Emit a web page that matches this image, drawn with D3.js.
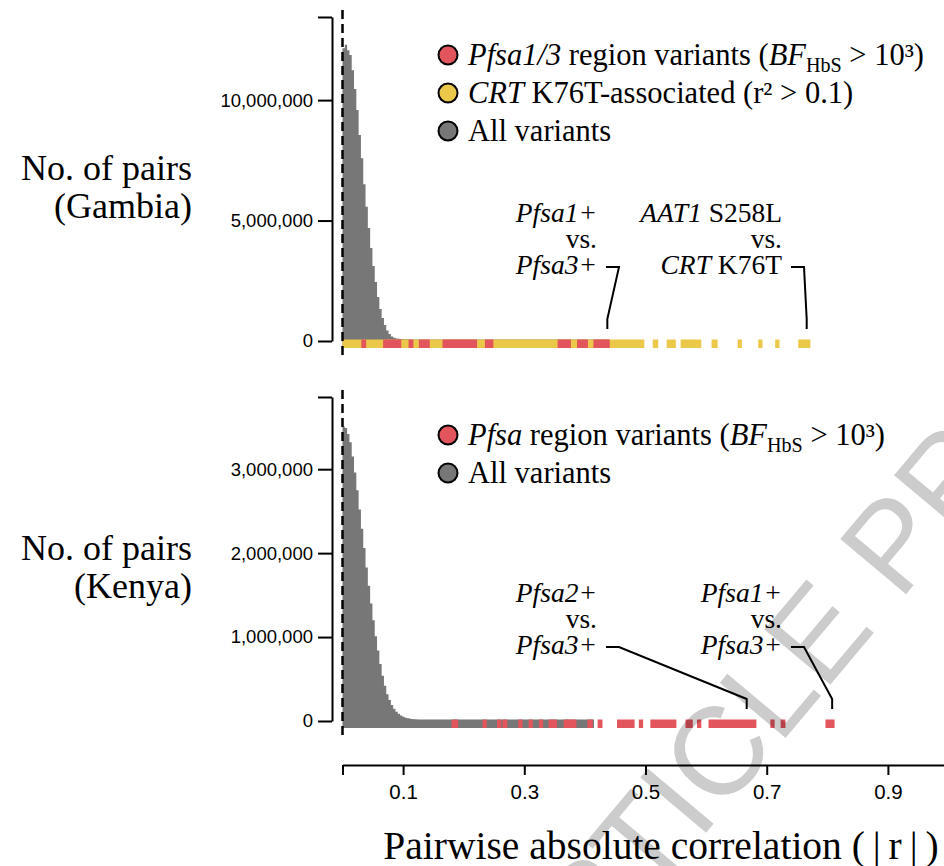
<!DOCTYPE html>
<html>
<head>
<meta charset="utf-8">
<script src="https://cdnjs.cloudflare.com/ajax/libs/d3/7.8.5/d3.min.js"></script>
<style>
  html, body { margin: 0; padding: 0; background: #fff; }
  svg { display: block; }
</style>
</head>
<body>
<div id="chart"></div>
<script>
/* ============================================================
   DATA
   ============================================================ */

// Histogram bin width in |r|
const BIN_WIDTH = 0.0038;

// Number of variant pairs per bin (all variants)
const gambiaCounts = [
  12150000, 12300000, 12070000, 11870000, 11240000, 10460000, 9590000, 8550000,
  7590000, 6510000, 5570000, 4690000, 3860000, 3110000, 2450000, 1830000,
  1330000, 950000, 660000, 440000, 290000, 190000, 135000, 105000,
  90000, 80000, 72000, 65000, 58000, 52000, 46000, 41000,
  36000, 31000, 27000, 23000, 19000, 16000, 13000, 10000, 8000, 6000
];
const kenyaCounts = [
  3510000, 3490000, 3420000, 3320000, 3150000, 2960000, 2750000, 2520000,
  2290000, 2060000, 1830000, 1610000, 1400000, 1200000, 1010000, 840000,
  680000, 540000, 420000, 320000, 250000, 190000, 145000, 110000,
  85000, 65000, 50000, 40000, 32000, 26000, 21000, 17000,
  14000, 12000, 10000, 8000, 7000, 6000, 5000, 4000
];

// Rug intervals [from, to] in |r|
const gambiaAllRug  = [[0.000, 0.440]];
const gambiaCrtRug  = [
  [0.000, 0.498], [0.512, 0.521], [0.535, 0.550], [0.558, 0.592], [0.609, 0.619],
  [0.652, 0.658], [0.686, 0.693], [0.714, 0.721], [0.752, 0.772]
];
const gambiaPfsaRug = [
  [0.031, 0.039], [0.067, 0.097], [0.109, 0.117], [0.126, 0.144], [0.165, 0.222],
  [0.235, 0.249], [0.355, 0.377], [0.387, 0.405], [0.414, 0.441]
];
const kenyaAllRug  = [[0.000, 0.415]];
const kenyaPfsaRug = [
  [0.180, 0.191], [0.231, 0.237], [0.255, 0.261], [0.264, 0.272], [0.290, 0.297],
  [0.307, 0.314], [0.324, 0.331], [0.340, 0.354], [0.365, 0.386], [0.404, 0.413],
  [0.421, 0.429], [0.453, 0.482], [0.489, 0.495], [0.508, 0.551], [0.566, 0.578],
  [0.585, 0.592], [0.604, 0.683], [0.706, 0.713], [0.723, 0.731], [0.797, 0.812]
];

// Axes
const gambiaTicks = [0, 5000000, 10000000];
const gambiaYMax  = 13450000;
const kenyaTicks  = [0, 1000000, 2000000, 3000000];
const kenyaYMax   = 3860000;
const xTicks      = [0, 0.1, 0.3, 0.5, 0.7, 0.9, 1];

// Text
const gambiaYLabel = ['No. of pairs', '(Gambia)'];
const kenyaYLabel  = ['No. of pairs', '(Kenya)'];
const xTitle = 'Pairwise absolute correlation (\u2009|\u2009r\u2009|\u2009)';

const gambiaLegend = [
  { key: 'pfsa', parts: [['Pfsa1/3', 'i'], [' region variants (', ''], ['BF', 'i'], ['HbS', 'sub'], [' > 10\u00b3)', '']] },
  { key: 'crt',  parts: [['CRT', 'i'], [' K76T-associated (r\u00b2 > 0.1)', '']] },
  { key: 'all',  parts: [['All variants', '']] }
];
const kenyaLegend = [
  { key: 'pfsa', parts: [['Pfsa', 'i'], [' region variants (', ''], ['BF', 'i'], ['HbS', 'sub'], [' > 10\u00b3)', '']] },
  { key: 'all',  parts: [['All variants', '']] }
];

// Annotated pairs: |r| of the pair and its label lines
const gambiaNotes = [
  { r: 0.437, lines: [[['Pfsa1+', 'i']], [['vs.', '']], [['Pfsa3+', 'i']]] },
  { r: 0.766, lines: [[['AAT1', 'i'], [' S258L', '']], [['vs.', '']], [['CRT', 'i'], [' K76T', '']]] }
];
const kenyaNotes = [
  { r: 0.667, lines: [[['Pfsa2+', 'i']], [['vs.', '']], [['Pfsa3+', 'i']]] },
  { r: 0.808, lines: [[['Pfsa1+', 'i']], [['vs.', '']], [['Pfsa3+', 'i']]] }
];

const watermark = 'ACCEPTED ARTICLE PREVIEW';


/* ============================================================
   STYLE / LAYOUT
   ============================================================ */

const W = 944, H = 866;
const SERIF = '"Liberation Serif", "Times New Roman", serif';
const SANS  = '"Liberation Sans", Arial, sans-serif';
const COLORS = { pfsa: '#E2555C', crt: '#ECC84A', all: '#777777' };

const LAYOUT = {
  axisX: 332,          // y-axis line
  xAxisY: 765,         // x-axis line
  noteX: [597, 782],   // right edge of annotation labels
  legendX: 448,
};

const panels = [
  { y0: 341, yTop: 17, yMax: gambiaYMax, ticks: gambiaTicks, counts: gambiaCounts,
    rugs: [['all', gambiaAllRug], ['crt', gambiaCrtRug], ['pfsa', gambiaPfsaRug]],
    legend: gambiaLegend, notes: gambiaNotes, ylabel: gambiaYLabel },
  { y0: 721, yTop: 397, yMax: kenyaYMax, ticks: kenyaTicks, counts: kenyaCounts,
    rugs: [['all', kenyaAllRug], ['pfsa', kenyaPfsaRug]],
    legend: kenyaLegend, notes: kenyaNotes, ylabel: kenyaYLabel },
];


/* ============================================================
   HELPERS
   ============================================================ */

// Append tspans for [text, style] parts: '' roman, 'i' italic, 'sub' subscript
function richText(text, parts) {
  let lowered = false;
  parts.forEach(([t, s]) => {
    const ts = text.append('tspan').text(t);
    if (s === 'i') ts.attr('font-style', 'italic');
    if (s === 'sub') {
      ts.attr('font-size', '0.66em').attr('dy', 7);
      lowered = true;
    } else if (lowered) {
      ts.attr('dy', -7);
      lowered = false;
    }
  });
}


/* ============================================================
   DRAW
   ============================================================ */

const svg = d3.select('#chart').append('svg')
  .attr('width', W)
  .attr('height', H);

svg.append('rect').attr('width', W).attr('height', H).attr('fill', '#fff');

const x = d3.scaleLinear().domain([0, 1]).range([342.5, 948.5]);

panels.forEach(p => {
  const y = d3.scaleLinear().domain([0, p.yMax]).range([p.y0, p.yTop]);
  const g = svg.append('g');

  /* Histogram (step area) */
  const pts = p.counts.map((c, i) => [i * BIN_WIDTH, c]);
  pts.push([p.counts.length * BIN_WIDTH, 0]);
  const area = d3.area()
    .x(d => x(d[0]))
    .y0(y(0))
    .y1(d => y(d[1]))
    .curve(d3.curveStepAfter);
  g.append('path').datum(pts).attr('d', area).attr('fill', COLORS.all);

  /* Rugs: all, then CRT, then Pfsa on top */
  p.rugs.forEach(([key, intervals]) => {
    g.append('g').selectAll('rect')
      .data(intervals)
      .join('rect')
      .attr('x', d => x(d[0]))
      .attr('width', d => Math.max(x(d[1]) - x(d[0]), 4.3))
      .attr('y', p.y0 - 1.5)
      .attr('height', 8.5)
      .attr('fill', COLORS[key]);
  });

  /* Dashed line at r = 0 */
  g.append('line')
    .attr('x1', x(0)).attr('x2', x(0))
    .attr('y1', p.yTop - 7).attr('y2', p.y0 + 16)
    .attr('stroke', '#000')
    .attr('stroke-width', 2.5)
    .attr('stroke-dasharray', '9,5');

  /* Y axis */
  const yAxis = d3.axisLeft(y)
    .tickValues(p.ticks.concat([p.yMax]))
    .tickSize(14)
    .tickSizeOuter(0)
    .tickPadding(5)
    .tickFormat(d => d === p.yMax ? '' : d3.format(',')(d));
  const ya = g.append('g')
    .attr('transform', `translate(${LAYOUT.axisX},0)`)
    .call(yAxis);
  ya.selectAll('path, line').attr('stroke', '#000').attr('stroke-width', 2);
  ya.selectAll('text')
    .attr('font-family', SANS)
    .attr('font-size', 18.5)
    .attr('fill', '#000');

  /* Y label */
  const yl = g.append('text')
    .attr('font-family', SERIF)
    .attr('font-size', 36)
    .attr('text-anchor', 'end');
  p.ylabel.forEach((line, i) => {
    yl.append('tspan')
      .attr('x', 192)
      .attr('y', p.y0 - 161 + i * 38)
      .text(line);
  });

  /* Legend */
  const lg = g.append('g').selectAll('g')
    .data(p.legend)
    .join('g')
    .attr('transform', (d, i) => `translate(${LAYOUT.legendX},${p.y0 - 286 + i * 38})`);
  lg.append('circle')
    .attr('r', 9.5)
    .attr('fill', d => COLORS[d.key])
    .attr('stroke', '#000')
    .attr('stroke-width', 2);
  lg.append('text')
    .attr('x', 20)
    .attr('y', 10)
    .attr('font-family', SERIF)
    .attr('font-size', 30.5)
    .each(function(d) { richText(d3.select(this), d.parts); });

  /* Annotations */
  p.notes.forEach((n, k) => {
    const tx = LAYOUT.noteX[k];
    const t = g.append('text')
      .attr('font-family', SERIF)
      .attr('font-size', 27.5)
      .attr('text-anchor', 'end');
    n.lines.forEach((line, i) => {
      const row = t.append('tspan')
        .attr('x', tx)
        .attr('y', p.y0 - 119 + i * 26);
      line.forEach(([s, st]) => {
        const ts = row.append('tspan').text(s);
        if (st === 'i') ts.attr('font-style', 'italic');
      });
    });
    const hy = p.y0 - 119 + 2 * 26 - 7;
    const hook = d3.line();
    g.append('path')
      .attr('d', hook([
        [tx + 9, hy], [tx + 22, hy],
        [x(n.r), p.y0 - 22], [x(n.r), p.y0 - 12]
      ]))
      .attr('fill', 'none')
      .attr('stroke', '#000')
      .attr('stroke-width', 2);
  });
});

/* X axis (shared, below the Kenya panel) */
const xAxis = d3.axisBottom(x)
  .tickValues(xTicks)
  .tickSize(10)
  .tickSizeOuter(0)
  .tickPadding(9)
  .tickFormat(d => (d === 0 || d === 1) ? '' : d3.format('.1f')(d));
const xa = svg.append('g')
  .attr('transform', `translate(0,${LAYOUT.xAxisY})`)
  .call(xAxis);
xa.selectAll('path, line').attr('stroke', '#000').attr('stroke-width', 2);
xa.selectAll('text')
  .attr('font-family', SANS)
  .attr('font-size', 20.5)
  .attr('fill', '#000');

svg.append('text')
  .attr('x', 661)
  .attr('y', 859)
  .attr('text-anchor', 'middle')
  .attr('font-family', SERIF)
  .attr('font-size', 39.5)
  .text(xTitle);

/* Watermark */
svg.append('text')
  .attr('transform', 'translate(84,1574) rotate(-50)')
  .attr('font-family', SANS)
  .attr('font-size', 125)
  .attr('fill', '#000')
  .attr('fill-opacity', 0.2)
  .text(watermark);
</script>
</body>
</html>
